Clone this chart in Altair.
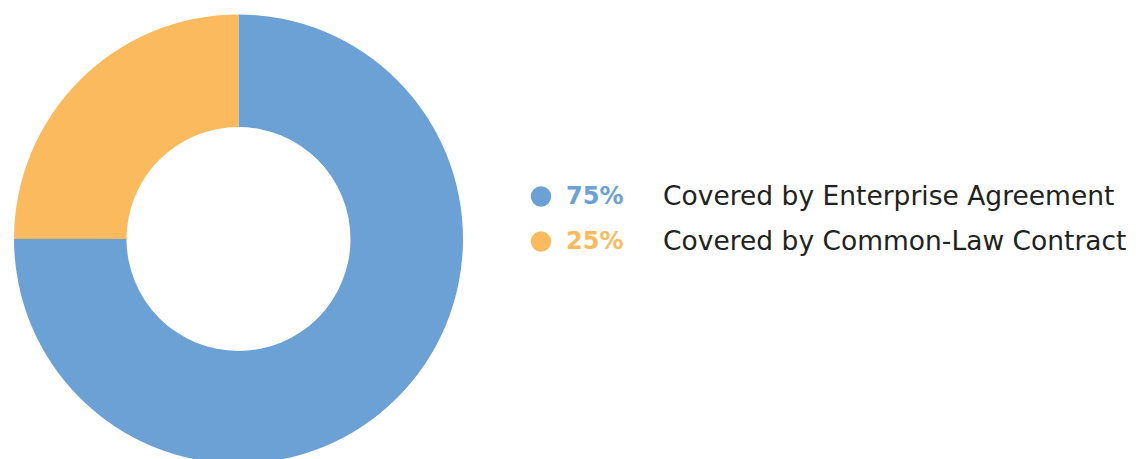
import altair as alt
import pandas as pd

categories = ["Covered by Enterprise Agreement", "Covered by Common-Law Contract"]
values = [75, 25]
pct_labels = ["75%", "25%"]
colors = ["#6ba1d5", "#fcba5e"]

df = pd.DataFrame({
    "category": categories,
    "value": values,
    "pct": pct_labels,
    "order": list(range(len(categories))),
})

color_scale = alt.Scale(domain=categories, range=colors)
row_scale = alt.Scale(domain=[0, 1], range=[196.5, 241.5])

base = alt.Chart(df)

donut = base.mark_arc(radius=224.5, radius2=112, stroke=None).encode(
    theta=alt.Theta("value:Q", stack=True),
    order=alt.Order("order:Q"),
    color=alt.Color("category:N", scale=color_scale, legend=None),
    x=alt.value(238.5),
    y=alt.value(239),
)

dots = base.mark_circle(size=420, opacity=1).encode(
    x=alt.value(541),
    y=alt.Y("order:Q", scale=row_scale, axis=None),
    color=alt.Color("category:N", scale=color_scale, legend=None),
)

pcts = base.mark_text(align="left", baseline="middle", font="DejaVu Sans",
                      fontSize=24, fontWeight="bold").encode(
    x=alt.value(566),
    y=alt.Y("order:Q", scale=row_scale, axis=None),
    text="pct:N",
    color=alt.Color("category:N", scale=color_scale, legend=None),
)

labels = base.mark_text(align="left", baseline="middle", font="DejaVu Sans",
                        fontSize=26.5, color="#222222").encode(
    x=alt.value(663),
    y=alt.Y("order:Q", scale=row_scale, axis=None),
    text="category:N",
)

chart = alt.layer(donut, dots, pcts, labels).properties(
    width=1144, height=459, padding=0
).configure_view(stroke=None)

chart.save("out.html", embed_options={"renderer": "svg", "actions": False})
